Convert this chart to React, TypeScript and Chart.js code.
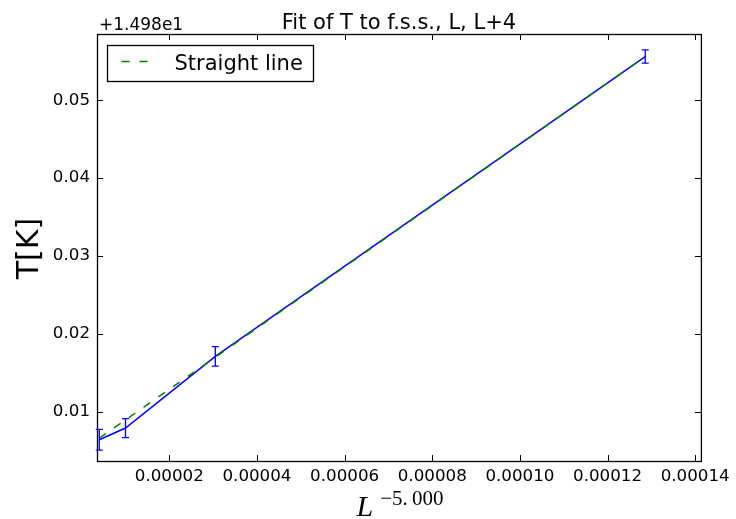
import React, { useEffect, useRef } from "react";
import { Chart, registerables } from "chart.js";

Chart.register(...registerables);

// ---- data (T values are offsets from 14.98) ----
const X_VALUES = [4.02e-6, 1.0e-5, 3.05e-5, 1.286e-4];
const T_VALUES = [0.0064, 0.0079, 0.0171, 0.0556];
const T_ERRORS = [0.00133, 0.00122, 0.00126, 0.00085];
const FIT_VALUES = [0.0066, 0.00895, 0.017, 0.0556];

const X_TICKS = [0.00002, 0.00004, 0.00006, 0.00008, 0.0001, 0.00012, 0.00014];
const Y_TICKS = [0.01, 0.02, 0.03, 0.04, 0.05];
const X_MIN = 3.5e-6;
const X_MAX = 1.413e-4;
const Y_MIN = 0.00367;
const Y_MAX = 0.0585;

const TITLE = "Fit of T to f.s.s., L, L+4";
const Y_OFFSET_TEXT = "+1.498e1";
const LEGEND_LABEL = "Straight line";
const Y_LABEL = "T[K]";
const X_LABEL_BASE = "L";
const X_LABEL_SUP = "\u22125.\u2009000";

const BLUE = "#0000ff";
const GREEN = "#008000";
const FONT = "'DejaVu Sans', sans-serif";

const decorPlugin = {
  id: "decor",
  afterDatasetsDraw(chart: any) {
    const ctx = chart.ctx;
    const xs = chart.scales.x;
    const ys = chart.scales.y;
    ctx.save();
    // error bars
    ctx.strokeStyle = BLUE;
    ctx.lineWidth = 1.3;
    for (let i = 0; i < X_VALUES.length; i++) {
      const px = xs.getPixelForValue(X_VALUES[i]);
      const y1 = ys.getPixelForValue(T_VALUES[i] - T_ERRORS[i]);
      const y2 = ys.getPixelForValue(T_VALUES[i] + T_ERRORS[i]);
      ctx.beginPath();
      ctx.moveTo(px, y1);
      ctx.lineTo(px, y2);
      ctx.moveTo(px - 3.5, y1);
      ctx.lineTo(px + 3.5, y1);
      ctx.moveTo(px - 3.5, y2);
      ctx.lineTo(px + 3.5, y2);
      ctx.stroke();
    }
    ctx.restore();
  },
  afterDraw(chart: any) {
    const ctx = chart.ctx;
    const a = chart.chartArea;
    const xs = chart.scales.x;
    const ys = chart.scales.y;
    ctx.save();
    // ticks inward
    ctx.strokeStyle = "#000";
    ctx.lineWidth = 1;
    ctx.beginPath();
    for (const v of X_TICKS) {
      const px = Math.round(xs.getPixelForValue(v)) + 0.5;
      ctx.moveTo(px, a.bottom);
      ctx.lineTo(px, a.bottom - 6);
      ctx.moveTo(px, a.top);
      ctx.lineTo(px, a.top + 6);
    }
    for (const v of Y_TICKS) {
      const py = Math.round(ys.getPixelForValue(v)) + 0.5;
      ctx.moveTo(a.left, py);
      ctx.lineTo(a.left + 6, py);
      ctx.moveTo(a.right, py);
      ctx.lineTo(a.right - 6, py);
    }
    ctx.stroke();
    // frame
    ctx.lineWidth = 1.3;
    ctx.strokeRect(a.left + 0.5, a.top + 0.5, a.right - a.left, a.bottom - a.top);

    // legend
    const lx = a.left + 10.5;
    const ly = a.top + 11.5;
    const lw = 206;
    const lh = 36;
    ctx.fillStyle = "#fff";
    ctx.fillRect(lx, ly, lw, lh);
    ctx.strokeStyle = "#000";
    ctx.lineWidth = 1.3;
    ctx.strokeRect(lx, ly, lw, lh);
    ctx.strokeStyle = GREEN;
    ctx.lineWidth = 1.5;
    ctx.setLineDash([8, 10]);
    ctx.beginPath();
    ctx.moveTo(lx + 14, ly + 16);
    ctx.lineTo(lx + 42, ly + 16);
    ctx.stroke();
    ctx.setLineDash([]);
    ctx.fillStyle = "#000";
    ctx.font = `21px ${FONT}`;
    ctx.textAlign = "left";
    ctx.textBaseline = "alphabetic";
    ctx.fillText(LEGEND_LABEL, lx + 67, ly + 24);

    // title
    ctx.font = `21px ${FONT}`;
    ctx.textAlign = "center";
    ctx.fillText(TITLE, (a.left + a.right) / 2, 28.5);

    // offset text
    ctx.font = `17px ${FONT}`;
    ctx.textAlign = "left";
    ctx.fillText(Y_OFFSET_TEXT, a.left + 2, 29.5);

    // y label
    ctx.save();
    ctx.translate(38, (a.top + a.bottom) / 2 + 1);
    ctx.rotate(-Math.PI / 2);
    ctx.font = `30px ${FONT}`;
    ctx.textAlign = "center";
    ctx.fillText(Y_LABEL, 0, 0);
    ctx.restore();

    // x label
    ctx.font = `italic 30px 'Liberation Serif', serif`;
    const wBase = ctx.measureText(X_LABEL_BASE).width;
    ctx.font = `21px 'Liberation Serif', serif`;
    const wSup = ctx.measureText(X_LABEL_SUP).width;
    const gap = 7;
    const total = wBase + gap + wSup;
    const startX = (a.left + a.right) / 2 - total / 2 + 1;
    ctx.textAlign = "left";
    ctx.font = `italic 30px 'Liberation Serif', serif`;
    ctx.fillText(X_LABEL_BASE, startX, 515.5);
    ctx.font = `21px 'Liberation Serif', serif`;
    ctx.fillText(X_LABEL_SUP, startX + wBase + gap, 504.5);
    ctx.restore();
  },
};

export default function App() {
  const ref = useRef<HTMLCanvasElement | null>(null);
  useEffect(() => {
    if (!ref.current) return;
    const chart = new Chart(ref.current, {
      type: "scatter",
      data: {
        datasets: [
          {
            label: "data",
            data: X_VALUES.map((x, i) => ({ x, y: T_VALUES[i] })),
            showLine: true,
            borderColor: BLUE,
            backgroundColor: BLUE,
            borderWidth: 1.5,
            pointRadius: 0,
            order: 2,
          },
          {
            label: LEGEND_LABEL,
            data: X_VALUES.map((x, i) => ({ x, y: FIT_VALUES[i] })),
            showLine: true,
            borderColor: GREEN,
            backgroundColor: GREEN,
            borderWidth: 1.5,
            borderDash: [8, 10],
            pointRadius: 0,
            order: 1,
          },
        ],
      },
      options: {
        responsive: false,
        animation: false,
        devicePixelRatio: 1,
        layout: { padding: { top: 34, right: 31, left: 0, bottom: 0 } },
        plugins: {
          legend: { display: false },
          title: { display: false },
          tooltip: { enabled: false },
        },
        scales: {
          x: {
            type: "linear",
            min: X_MIN,
            max: X_MAX,
            afterBuildTicks: (s: any) => {
              s.ticks = X_TICKS.map((v) => ({ value: v }));
            },
            afterFit: (s: any) => {
              s.height = 58;
            },
            grid: { display: false, drawTicks: false },
            border: { display: false },
            ticks: {
              padding: 6,
              color: "#000",
              maxRotation: 0,
              autoSkip: false,
              font: { family: "DejaVu Sans", size: 16.7 },
              callback: (v: any) => Number(v).toFixed(5),
            },
          },
          y: {
            type: "linear",
            min: Y_MIN,
            max: Y_MAX,
            afterBuildTicks: (s: any) => {
              s.ticks = Y_TICKS.map((v) => ({ value: v }));
            },
            afterFit: (s: any) => {
              s.width = 97;
            },
            grid: { display: false, drawTicks: false },
            border: { display: false },
            ticks: {
              padding: 7,
              color: "#000",
              autoSkip: false,
              font: { family: "DejaVu Sans", size: 16.7 },
              callback: (v: any) => Number(v).toFixed(2),
            },
          },
        },
      },
      plugins: [decorPlugin],
    });
    return () => chart.destroy();
  }, []);
  return (
    <div style={{ position: "absolute", left: 0, top: 0, width: 736, height: 519, background: "#fff" }}>
      <canvas ref={ref} width={736} height={519} style={{ display: "block" }} />
    </div>
  );
}
